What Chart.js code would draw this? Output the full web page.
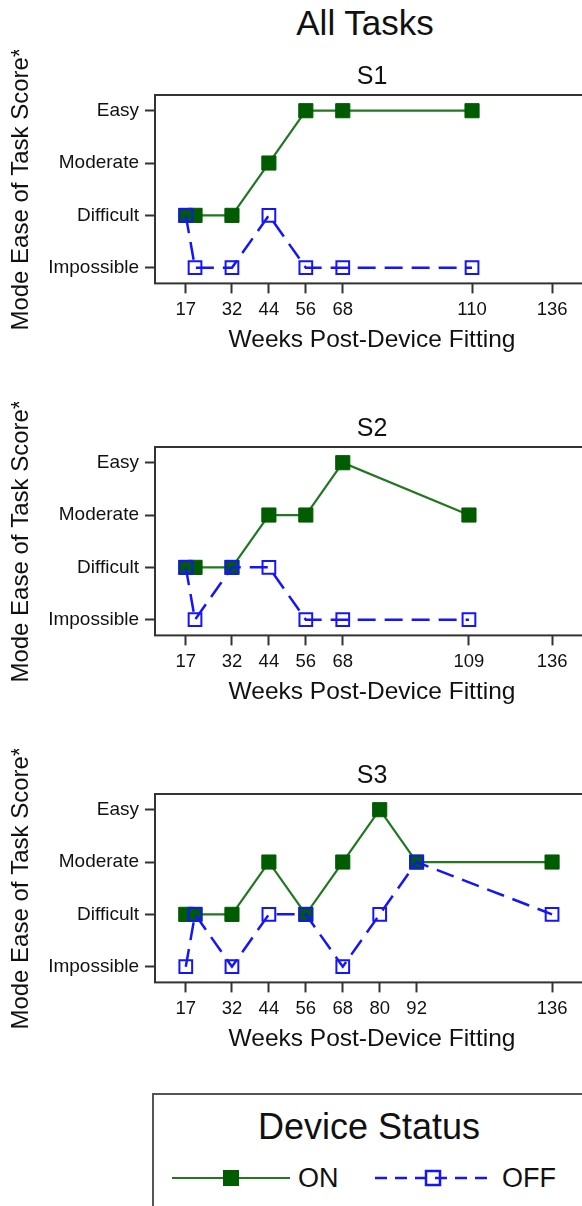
<!DOCTYPE html>
<html>
<head>
<meta charset="utf-8">
<script src="https://cdn.jsdelivr.net/npm/chart.js@4.4.1/dist/chart.umd.min.js"></script>
<style>
  html, body { margin: 0; padding: 0; background: #fff; overflow: hidden; }
  body { width: 582px; height: 1206px; position: relative; font-family: "Liberation Sans", Arial, sans-serif; color: #111; }
  .panel { position: absolute; left: 0; width: 600px; height: 309px; }
  #mainTitle { position: absolute; left: 0; top: 3px; width: 730px; text-align: center; font-size: 35px; line-height: 40px; }
  #legendBox { position: absolute; left: 152px; top: 1093px; width: 520px; height: 140px; border: 2px solid #555; }
  #legendBox .ttl { position: absolute; left: 0; top: 11px; width: 430px; text-align: center; font-size: 36px; line-height: 42px; }
  #legendBox .lbl { position: absolute; top: 68px; font-size: 27px; line-height: 30px; }
  #legendBox svg { position: absolute; top: 73px; }
</style>
</head>
<body>
<div id="mainTitle">All Tasks</div>
<div class="panel" style="top:50px"><canvas id="chart_s1" width="600" height="309"></canvas></div>
<div class="panel" style="top:402px"><canvas id="chart_s2" width="600" height="309"></canvas></div>
<div class="panel" style="top:749px"><canvas id="chart_s3" width="600" height="309"></canvas></div>

<div id="legendBox">
  <div class="ttl">Device Status</div>
  <svg width="118" height="20" style="left:18px">
    <line x1="0" y1="10" x2="118" y2="10" stroke="#217821" stroke-width="2"/>
    <rect x="51" y="2" width="16" height="16" fill="#005c00"/>
  </svg>
  <div class="lbl" style="left:144px">ON</div>
  <svg width="118" height="20" style="left:221px">
    <line x1="0" y1="10" x2="118" y2="10" stroke="#1414ff" stroke-width="2.5" stroke-dasharray="12 8"/>
    <rect x="51" y="3" width="14" height="14" fill="none" stroke="#1414ff" stroke-width="2.5"/>
  </svg>
  <div class="lbl" style="left:348px">OFF</div>
</div>

<script>
// score levels, bottom to top
const levels = ['Impossible', 'Difficult', 'Moderate', 'Easy'];
const levelTicks = [1, 2, 3, 4];

// S1
const s1Weeks = [17, 20, 32, 44, 56, 68, 110];
const s1On = ['Difficult', 'Difficult', 'Difficult', 'Moderate', 'Easy', 'Easy', 'Easy'];
const s1Off = ['Difficult', 'Impossible', 'Impossible', 'Difficult', 'Impossible', 'Impossible', 'Impossible'];
const s1Ticks = [17, 32, 44, 56, 68, 110, 136];

// S2
const s2Weeks = [17, 20, 32, 44, 56, 68, 109];
const s2On = ['Difficult', 'Difficult', 'Difficult', 'Moderate', 'Moderate', 'Easy', 'Moderate'];
const s2Off = ['Difficult', 'Impossible', 'Difficult', 'Difficult', 'Impossible', 'Impossible', 'Impossible'];
const s2Ticks = [17, 32, 44, 56, 68, 109, 136];

// S3
const s3Weeks = [17, 20, 32, 44, 56, 68, 80, 92, 136];
const s3On = ['Difficult', 'Difficult', 'Difficult', 'Moderate', 'Difficult', 'Moderate', 'Easy', 'Moderate', 'Moderate'];
const s3Off = ['Impossible', 'Difficult', 'Impossible', 'Difficult', 'Difficult', 'Impossible', 'Difficult', 'Moderate', 'Difficult'];
const s3Ticks = [17, 32, 44, 56, 68, 80, 92, 136];

const FONT = '"Liberation Sans", Arial, sans-serif';
const ON_LINE = '#217821';
const ON_MARK = '#005c00';
const OFF_COLOR = '#1414ff';

// box around the plot region
const framePlugin = {
    id: 'frame',
    beforeDatasetsDraw(chart) {
        const ctx = chart.ctx;
        const a = chart.chartArea;
        ctx.save();
        ctx.strokeStyle = '#333';
        ctx.lineWidth = 2;
        ctx.strokeRect(a.left, a.top, a.right - a.left, a.bottom - a.top);
        ctx.restore();
    }
};

function toPoints(weeks, scores) {
    return weeks.map((w, i) => ({ x: w, y: levels.indexOf(scores[i]) + 1 }));
}

function createPanel(id, title, weeks, on, off, ticks) {
    let chart = document.getElementById(id);
    const data = {
        datasets: [{
            label: 'ON',
            data: toPoints(weeks, on),
            borderColor: ON_LINE,
            borderWidth: 2.2,
            pointStyle: 'rect',
            pointRadius: 10,
            pointBackgroundColor: ON_MARK,
            pointBorderColor: ON_MARK,
            pointBorderWidth: 1,
            order: 1
        }, {
            label: 'OFF',
            data: toPoints(weeks, off),
            borderColor: OFF_COLOR,
            borderWidth: 2.5,
            borderDash: [18, 9],
            pointStyle: 'rect',
            pointRadius: 9,
            pointBackgroundColor: 'rgba(0,0,0,0)',
            pointBorderColor: OFF_COLOR,
            pointBorderWidth: 2,
            order: 0
        }]
    };

    const config = {
        type: 'line',
        data: data,
        plugins: [framePlugin],
        options: {
            responsive: false,
            animation: false,
            layout: { padding: { left: 0, right: 5, top: 0, bottom: 0 } },
            plugins: {
                legend: { display: false },
                tooltip: { enabled: false },
                title: {
                    display: true,
                    text: title,
                    fullSize: false,
                    color: '#111',
                    font: { family: FONT, size: 25, weight: 'normal' },
                    padding: { top: 12, bottom: 3 }
                }
            },
            scales: {
                x: {
                    type: 'linear',
                    min: 7,
                    max: 148,
                    afterBuildTicks: (scale) => { scale.ticks = ticks.map(v => ({ value: v })); },
                    ticks: {
                        autoSkip: false,
                        maxRotation: 0,
                        padding: 5,
                        color: '#111',
                        font: { family: FONT, size: 18.5 }
                    },
                    grid: {
                        drawOnChartArea: false,
                        drawTicks: true,
                        tickLength: 10,
                        tickWidth: 2,
                        tickColor: '#333'
                    },
                    border: { display: false },
                    title: {
                        display: true,
                        text: 'Weeks Post-Device Fitting',
                        color: '#111',
                        font: { family: FONT, size: 24.5 },
                        padding: { top: 0, bottom: 4 }
                    }
                },
                y: {
                    type: 'linear',
                    min: 0.7,
                    max: 4.3,
                    afterBuildTicks: (scale) => { scale.ticks = levelTicks.map(v => ({ value: v })); },
                    afterFit: (scale) => { scale.width = 155; },
                    ticks: {
                        padding: 6,
                        color: '#111',
                        font: { family: FONT, size: 19 },
                        callback: (v) => levels[v - 1]
                    },
                    grid: {
                        drawOnChartArea: false,
                        drawTicks: true,
                        tickLength: 10,
                        tickWidth: 2,
                        tickColor: '#333'
                    },
                    border: { display: false },
                    title: {
                        display: true,
                        text: 'Mode Ease of Task Score*',
                        color: '#111',
                        font: { family: FONT, size: 24 },
                        padding: { top: 7, bottom: 0 }
                    }
                }
            }
        }
    };

    const myChart = new Chart(chart, config);
}

createPanel('chart_s1', 'S1', s1Weeks, s1On, s1Off, s1Ticks);
createPanel('chart_s2', 'S2', s2Weeks, s2On, s2Off, s2Ticks);
createPanel('chart_s3', 'S3', s3Weeks, s3On, s3Off, s3Ticks);
</script>
</body>
</html>
